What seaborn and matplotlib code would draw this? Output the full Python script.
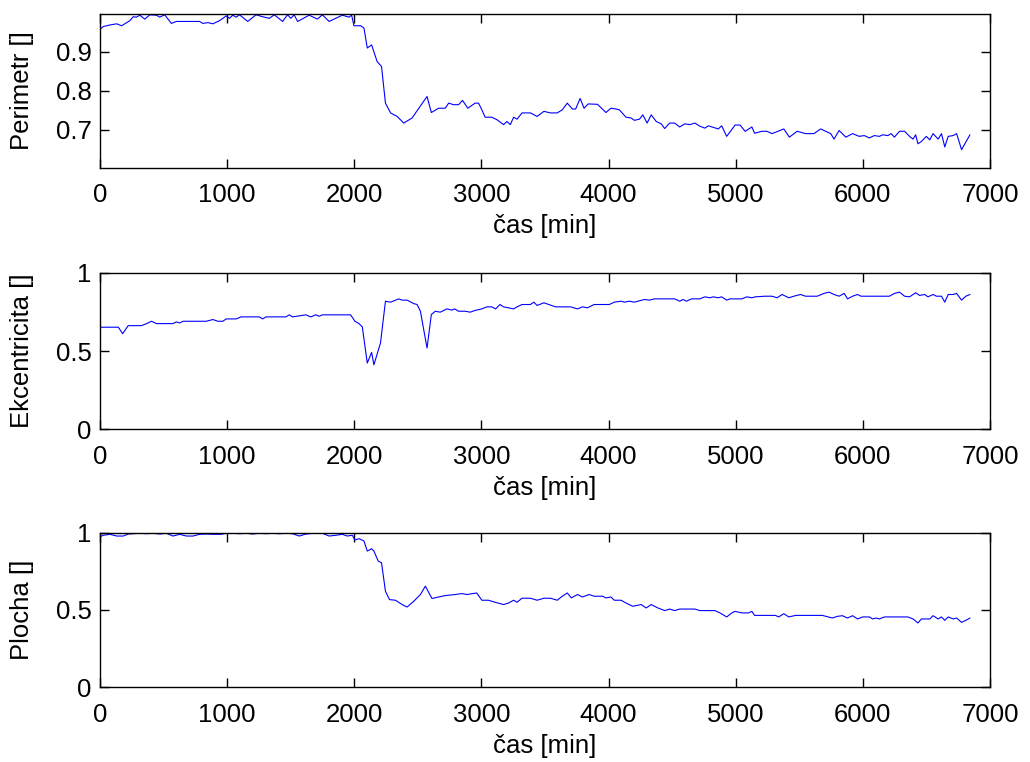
import numpy as np
import pandas as pd
import matplotlib
matplotlib.use("Agg")
import matplotlib.pyplot as plt
import seaborn as sns

# ---------------- data ----------------
perim_t = [0, 26, 78, 131, 170, 209, 235, 261, 287, 313, 352, 392, 444, 470, 509, 561, 601, 783, 809, 849,
           888, 940, 992, 1018, 1044, 1071, 1097, 1162, 1227, 1279, 1332, 1371, 1436, 1475, 1501, 1527, 1554, 1645, 1710, 1749,
           1802, 1854, 1906, 1958, 1979, 1997, 2050, 2076, 2102, 2136, 2180, 2214, 2245, 2285, 2337, 2389, 2454, 2572, 2606, 2663,
           2715, 2742, 2781, 2820, 2851, 2893, 2950, 2977, 3003, 3029, 3081, 3120,
           3174, 3200, 3227, 3253, 3280, 3319, 3385, 3438, 3491, 3543, 3596, 3636, 3675, 3715, 3741, 3776, 3807, 3839, 3913, 3979,
           4018, 4058, 4084, 4137, 4177, 4203, 4243, 4269, 4303, 4335, 4375, 4414, 4441, 4480, 4520, 4559, 4599, 4639, 4678, 4718,
           4757, 4784, 4823, 4863, 4889, 4929, 4995, 5034, 5074, 5127, 5148, 5206, 5246, 5285, 5325, 5378, 5422, 5483, 5549, 5615,
           5668, 5707, 5747, 5773, 5813, 5866, 5919, 5971, 6011, 6051, 6090, 6130, 6156, 6196, 6222, 6248, 6288, 6328, 6367, 6394,
           6415, 6433, 6460, 6499, 6526, 6552, 6592, 6618, 6644, 6671, 6710, 6737, 6776, 6842]
perim_v = [0.957, 0.964, 0.968, 0.971, 0.966, 0.974, 0.979, 0.989, 0.988, 0.993, 0.983, 0.994, 0.993, 0.988, 0.994, 0.972, 0.977, 0.977, 0.972, 0.974,
           0.971, 0.979, 0.991, 0.985, 0.993, 0.988, 0.994, 0.977, 0.994, 0.989, 0.985, 0.994, 0.977, 0.994, 0.985, 0.994, 0.977, 0.993, 0.983, 0.994,
           0.977, 0.985, 0.993, 0.988, 0.993, 0.966, 0.966, 0.960, 0.909, 0.917, 0.874, 0.862, 0.768, 0.743, 0.734, 0.717, 0.730, 0.785, 0.744, 0.755,
           0.755, 0.768, 0.764, 0.764, 0.775, 0.755, 0.768, 0.768, 0.751, 0.732, 0.732, 0.726,
           0.713, 0.721, 0.713, 0.732, 0.727, 0.743, 0.743, 0.734, 0.747, 0.743, 0.743, 0.751, 0.768, 0.753, 0.753, 0.780, 0.755, 0.766, 0.765, 0.744,
           0.755, 0.753, 0.751, 0.732, 0.730, 0.724, 0.727, 0.738, 0.717, 0.738, 0.721, 0.715, 0.703, 0.717, 0.717, 0.707, 0.715, 0.713, 0.717, 0.709,
           0.704, 0.710, 0.706, 0.702, 0.710, 0.683, 0.712, 0.712, 0.696, 0.707, 0.691, 0.696, 0.696, 0.690, 0.695, 0.702, 0.681, 0.696, 0.690, 0.690,
           0.702, 0.696, 0.690, 0.676, 0.698, 0.681, 0.690, 0.683, 0.685, 0.679, 0.685, 0.683, 0.687, 0.685, 0.690, 0.681, 0.696, 0.696, 0.683, 0.676,
           0.687, 0.664, 0.670, 0.683, 0.674, 0.690, 0.676, 0.690, 0.656, 0.683, 0.685, 0.690, 0.649, 0.687]

ekc_t = [0, 144, 178, 222, 326, 366, 405, 444, 574, 601, 627, 653, 836, 888, 927, 966, 992, 1071, 1110, 1253,
         1279, 1306, 1462, 1488, 1514, 1619, 1658, 1697, 1723, 1749, 1971, 2005, 2037, 2063, 2102, 2136, 2154, 2206, 2245, 2285,
         2350, 2376, 2415, 2467, 2494, 2520, 2572, 2606, 2637, 2676, 2728, 2768, 2789, 2820, 2872, 2911, 2950, 3003, 3042, 3081,
         3112, 3146, 3174, 3253, 3280, 3319, 3385, 3412, 3438, 3491, 3583, 3702, 3755, 3794, 3834, 3886, 4005, 4045, 4098, 4124,
         4164, 4203, 4282, 4322, 4362, 4520, 4559, 4586, 4612, 4652, 4718, 4757, 4797, 4823, 4863, 4889, 4929, 4955, 5048, 5087,
         5127, 5153, 5232, 5285, 5325, 5364, 5417, 5457, 5509, 5549, 5641, 5694, 5734, 5773, 5813, 5853, 5879, 5919, 5958, 5985,
         6209, 6248, 6288, 6328, 6367, 6415, 6446, 6486, 6512, 6552, 6578, 6618, 6644, 6671, 6710, 6737, 6776, 6810, 6842]
ekc_v = [0.652, 0.652, 0.611, 0.662, 0.662, 0.675, 0.690, 0.675, 0.675, 0.686, 0.679, 0.690, 0.690, 0.701, 0.690, 0.690, 0.705, 0.705, 0.718, 0.718,
         0.705, 0.718, 0.718, 0.731, 0.718, 0.731, 0.718, 0.731, 0.722, 0.731, 0.731, 0.690, 0.675, 0.654, 0.423, 0.491, 0.412, 0.551, 0.818, 0.812,
         0.833, 0.825, 0.825, 0.803, 0.797, 0.754, 0.519, 0.733, 0.754, 0.748, 0.769, 0.761, 0.769, 0.754, 0.754, 0.748, 0.759, 0.769, 0.782, 0.782,
         0.769, 0.797, 0.782, 0.769, 0.782, 0.797, 0.797, 0.812, 0.791, 0.808, 0.782, 0.782, 0.769, 0.782, 0.776, 0.797, 0.797, 0.812, 0.818, 0.812,
         0.818, 0.812, 0.829, 0.825, 0.833, 0.833, 0.818, 0.829, 0.818, 0.833, 0.833, 0.846, 0.840, 0.846, 0.840, 0.846, 0.825, 0.833, 0.833, 0.846,
         0.840, 0.846, 0.850, 0.850, 0.840, 0.861, 0.840, 0.850, 0.861, 0.850, 0.850, 0.868, 0.876, 0.861, 0.850, 0.868, 0.833, 0.850, 0.861, 0.850,
         0.850, 0.868, 0.876, 0.850, 0.846, 0.872, 0.855, 0.861, 0.846, 0.861, 0.850, 0.850, 0.812, 0.861, 0.861, 0.868, 0.825, 0.850, 0.861]

plocha_t = [0, 26, 78, 131, 183, 222, 261, 313, 366, 418, 470, 522, 574, 627, 679, 731, 783, 836, 888, 953,
            992, 1044, 1097, 1149, 1201, 1253, 1306, 1358, 1410, 1462, 1514, 1567, 1619, 1684, 1749, 1802, 1854, 1906, 1945, 1984,
            2005, 2037, 2076, 2102, 2136, 2154, 2188, 2214, 2245, 2277, 2324, 2376, 2415, 2467, 2520, 2559, 2611, 2663, 2715, 2794,
            2846, 2885, 2963, 3003, 3055, 3107, 3174, 3213, 3253, 3280, 3319, 3385, 3438, 3491, 3543, 3596, 3636, 3675, 3707, 3755,
            3794, 3847, 3886, 3953, 3979, 4018, 4045, 4098, 4137, 4190, 4256, 4296, 4335, 4388, 4441, 4480, 4520, 4559, 4678, 4718,
            4837, 4876, 4929, 4969, 4995, 5048, 5100, 5127, 5148, 5232, 5312, 5338, 5378, 5417, 5470, 5681, 5760, 5800, 5839, 5879,
            5919, 5958, 5998, 6051, 6077, 6103, 6130, 6169, 6354, 6394, 6433, 6460, 6526, 6552, 6592, 6618, 6644, 6671, 6710, 6737,
            6776, 6810, 6842]
plocha_v = [0.974, 0.983, 0.989, 0.978, 0.978, 0.991, 0.993, 0.996, 0.993, 0.996, 0.991, 0.996, 0.978, 0.989, 0.978, 0.978, 0.989, 0.991, 0.989, 0.989,
            0.996, 0.996, 0.993, 0.996, 0.991, 0.996, 0.993, 0.996, 0.993, 0.996, 0.993, 0.978, 0.991, 0.996, 0.996, 0.978, 0.983, 0.989, 0.978, 0.983,
            0.952, 0.961, 0.946, 0.881, 0.896, 0.881, 0.816, 0.805, 0.621, 0.567, 0.563, 0.535, 0.519, 0.556, 0.600, 0.654, 0.574, 0.584, 0.593, 0.600,
            0.606, 0.600, 0.610, 0.563, 0.563, 0.550, 0.535, 0.545, 0.563, 0.550, 0.576, 0.576, 0.563, 0.576, 0.576, 0.563, 0.589, 0.610, 0.578, 0.600,
            0.584, 0.600, 0.589, 0.589, 0.578, 0.584, 0.563, 0.563, 0.545, 0.524, 0.535, 0.513, 0.535, 0.513, 0.496, 0.506, 0.496, 0.506, 0.506, 0.496,
            0.496, 0.481, 0.455, 0.481, 0.491, 0.481, 0.481, 0.491, 0.465, 0.465, 0.465, 0.455, 0.476, 0.455, 0.465, 0.465, 0.448, 0.459, 0.463, 0.448,
            0.463, 0.442, 0.455, 0.455, 0.442, 0.448, 0.442, 0.455, 0.455, 0.442, 0.416, 0.442, 0.442, 0.463, 0.442, 0.455, 0.433, 0.455, 0.442, 0.448,
            0.420, 0.433, 0.448]

y_labels = ["Perimetr []", "Ekcentricita []", "Plocha []"]
x_label = "čas [min]"
x_ticks = [0, 1000, 2000, 3000, 4000, 5000, 6000, 7000]
y_ticks = [[0.7, 0.8, 0.9], [0, 0.5, 1], [0, 0.5, 1]]
y_ticklabels = [["0.7", "0.8", "0.9"], ["0", "0.5", "1"], ["0", "0.5", "1"]]
y_limits = [(0.602, 0.996), (0, 1), (0, 1)]

# ---------------- plot ----------------
sns.set_theme(style="white")
plt.rcParams["font.family"] = ["Liberation Sans", "DejaVu Sans"]
plt.rcParams["text.color"] = "black"
plt.rcParams["axes.labelcolor"] = "black"
plt.rcParams["xtick.color"] = "black"
plt.rcParams["ytick.color"] = "black"

fig = plt.figure(figsize=(10.3, 7.62), dpi=100)
fig.patch.set_facecolor("white")

positions = [
    [0.0971, 0.7795, 0.8641, 0.2021],
    [0.0971, 0.4366, 0.8641, 0.2055],
    [0.0971, 0.0980, 0.8641, 0.2030],
]
series = [(perim_t, perim_v), (ekc_t, ekc_v), (plocha_t, plocha_v)]

FS = 18.5
for i, (pos, (t, v)) in enumerate(zip(positions, series)):
    ax = fig.add_axes(pos)
    df = pd.DataFrame({"t": t, "v": v})
    sns.lineplot(data=df, x="t", y="v", ax=ax, color="#0000ff", linewidth=0.8,
                 estimator=None, sort=False)
    ax.set_xlim(0, 7000)
    ax.set_ylim(*y_limits[i])
    ax.set_xticks(x_ticks)
    ax.set_xticklabels([str(x) for x in x_ticks])
    ax.set_yticks(y_ticks[i])
    ax.set_yticklabels(y_ticklabels[i])
    ax.set_xlabel(x_label, fontsize=FS, labelpad=5)
    ax.set_ylabel(y_labels[i], fontsize=FS)
    ax.yaxis.set_label_coords(-0.0745, 0.5)
    ax.tick_params(axis="x", which="major", pad=11)
    ax.tick_params(axis="y", which="major", pad=6)
    ax.tick_params(axis="both", which="major", direction="in", length=6.5, width=1.0,
                   labelsize=FS, top=True, right=True, bottom=True, left=True,
                   color="black", labelcolor="black")
    for sp in ax.spines.values():
        sp.set_visible(True)
        sp.set_color("black")
        sp.set_linewidth(1.0)
    ax.set_facecolor("white")
    ax.grid(False)

fig.savefig("out.png", dpi=100, facecolor="white")
